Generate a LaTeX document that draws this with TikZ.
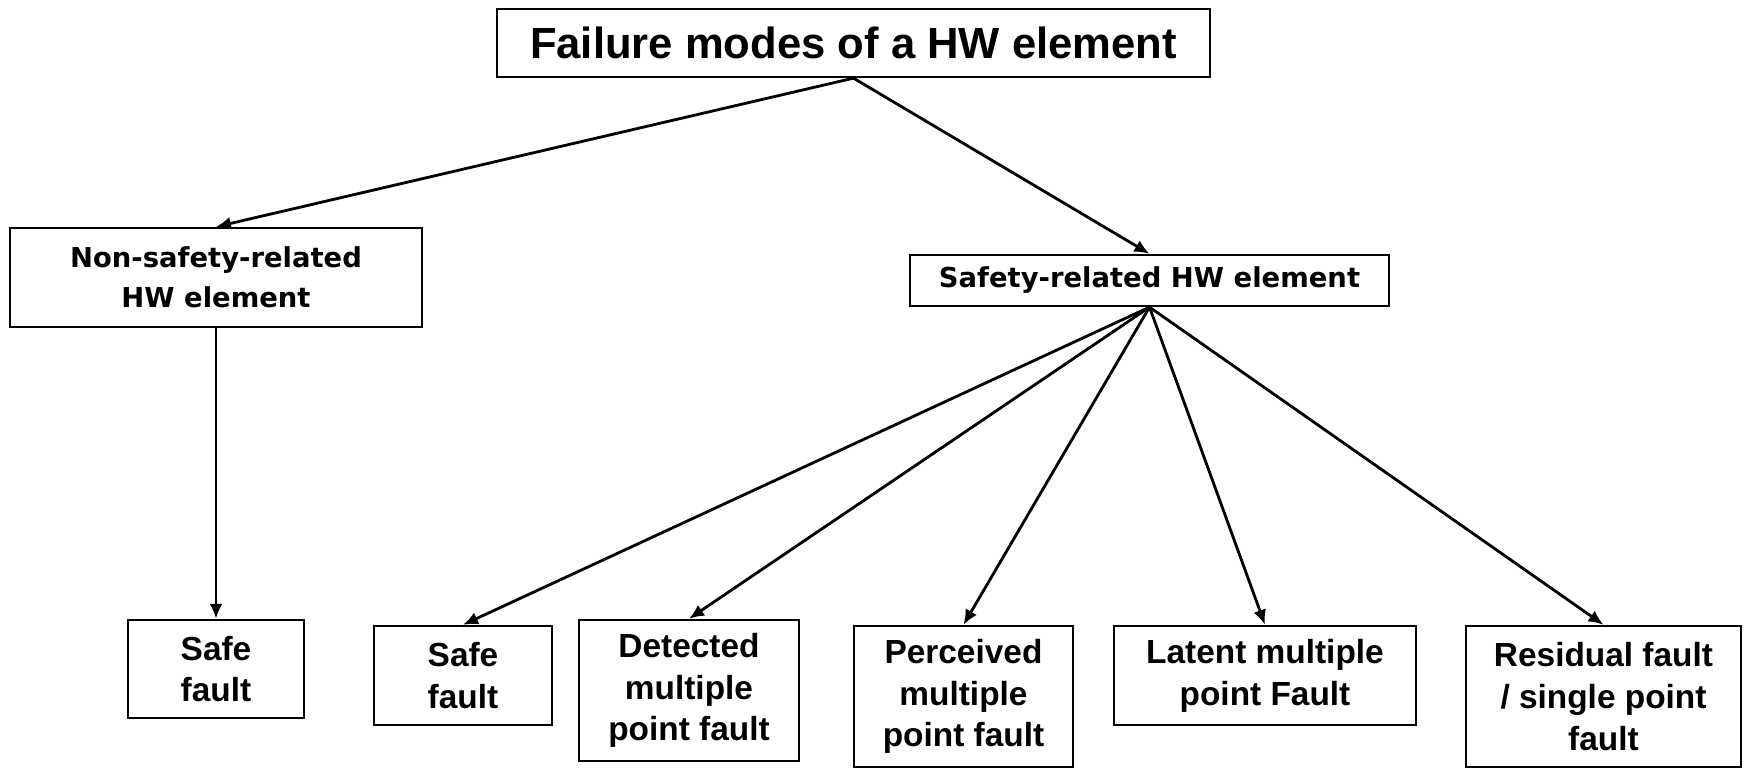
\documentclass[tikz,border=0pt]{standalone}
\usepackage{fontspec}
\setmainfont{Liberation Sans}
\newfontfamily\dejavu{DejaVu Sans}
\usetikzlibrary{arrows.meta}
\tikzset{
  box/.style={draw, line width=0.65pt, inner sep=0pt, align=center, font=\bfseries\fontsize{9.5}{11.9}\selectfont},
  titlebox/.style={box, font=\bfseries\fontsize{12.4}{15}\selectfont},
  midbox/.style={box, font=\dejavu\bfseries\fontsize{7.8}{11.4}\selectfont},
  conn/.style={line width=0.8pt, -{Latex[length=0.15cm,width=0.13cm]}}
}
\begin{document}
\begin{tikzpicture}[x=0.01cm, y=-0.01cm]
\useasboundingbox (0,0) rectangle (1744,768);
\node[titlebox, minimum width=7.13cm, minimum height=0.68cm] (top) at (853.5,43) {Failure modes of a HW element};
\node[midbox, minimum width=4.12cm, minimum height=0.99cm] (nonsafe) at (216,277.5) {Non-safety-related\\HW element};
\node[midbox, minimum width=4.79cm, minimum height=0.51cm] (safety) at (1149.5,280.5) {Safety-related HW element};
\node[box, minimum width=1.76cm, minimum height=0.98cm] (sf1) at (216,669) {Safe\\fault};
\node[box, minimum width=1.78cm, minimum height=0.99cm] (sf2) at (463,675.5) {Safe\\fault};
\node[box, minimum width=2.20cm, minimum height=1.41cm] (det) at (689,690.5) {Detected\\multiple\\point fault};
\node[box, minimum width=2.19cm, minimum height=1.41cm] (per) at (963.5,696.5) {Perceived\\multiple\\point fault};
\node[box, minimum width=3.02cm, minimum height=0.99cm] (lat) at (1265,675.5) {Latent multiple\\point Fault};
\node[box, minimum width=2.75cm, minimum height=1.41cm] (res) at (1603.5,696.5) {Residual fault\\/ single point\\fault};
\draw[conn] (top.south) -- (nonsafe.north);
\draw[conn] (top.south) -- (safety.north);
\draw[conn] (nonsafe.south) -- (sf1.north);
\draw[conn] (safety.south) -- (sf2.north);
\draw[conn] (safety.south) -- (det.north);
\draw[conn] (safety.south) -- (per.north);
\draw[conn] (safety.south) -- (lat.north);
\draw[conn] (safety.south) -- (res.north);
\end{tikzpicture}
\end{document}
